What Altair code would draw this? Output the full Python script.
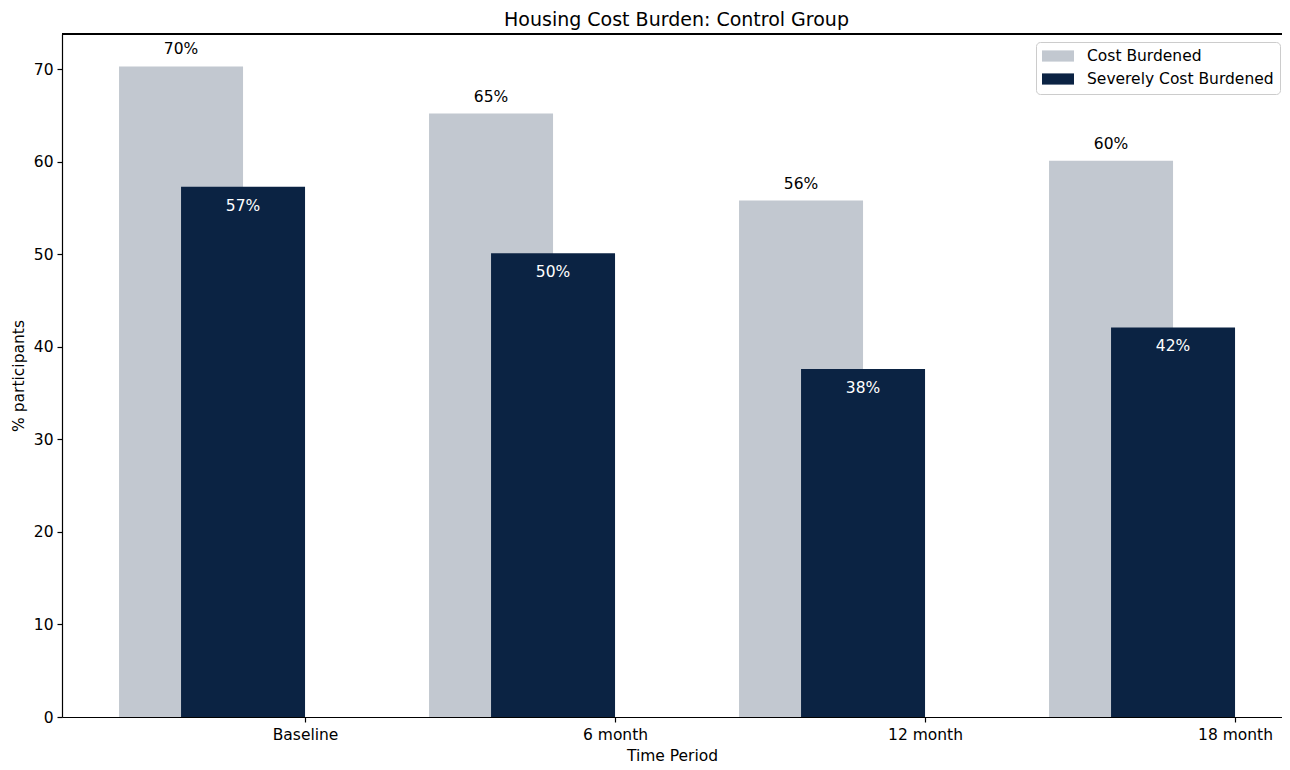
import json
import altair as alt
import pandas as pd

periods = ["Baseline", "6 month", "12 month", "18 month"]
cost_burdened = [70.3, 65.2, 55.8, 60.1]
severely_burdened = [57.3, 50.1, 37.6, 42.1]
series_names = ["Cost Burdened", "Severely Cost Burdened"]
series_colors = ["#c2c8d0", "#0b2343"]
y_ticks = [0, 10, 20, 30, 40, 50, 60, 70]
chart_title = "Housing Cost Burden: Control Group"

rows = []
for s_idx, (name, vals) in enumerate(zip(series_names, [cost_burdened, severely_burdened])):
    for i, v in enumerate(vals):
        rows.append({"idx": i, "period": periods[i], "series": name, "sidx": s_idx,
                     "value": v, "label": f"{round(v)}%"})
df = pd.DataFrame(rows)

W, H = 1220, 683
FONT = "DejaVu Sans"
FS = 15.5

base = alt.Chart(df).transform_calculate(
    x0="datum.idx - 0.6 + 0.2 * datum.sidx",
    x1="datum.idx - 0.2 + 0.2 * datum.sidx",
    xc="datum.idx - 0.4 + 0.2 * datum.sidx",
)

xscale = alt.Scale(domain=[-0.784, -0.784 + W / 310.0], nice=False, zero=False)
yscale = alt.Scale(domain=[0, 73.8], nice=False)

label_expr = json.dumps(periods) + "[datum.value]"

bars = base.mark_bar(stroke=None).encode(
    x=alt.X("x0:Q", scale=xscale,
            axis=alt.Axis(values=[0, 1, 2, 3], labelExpr=label_expr, title="Time Period",
                          grid=False, labelPadding=5, titlePadding=6)),
    x2="x1:Q",
    y=alt.Y("value:Q", scale=yscale,
            axis=alt.Axis(values=y_ticks, title="% participants", grid=False,
                          labelPadding=4, titlePadding=7)),
    y2=alt.datum(0),
    color=alt.Color("series:N", scale=alt.Scale(domain=series_names, range=series_colors),
                    legend=alt.Legend(title=None)),
    order=alt.Order("sidx:Q"),
)

top_labels = base.transform_filter("datum.sidx == 0").mark_text(
    baseline="alphabetic", dy=-12, fontSize=FS, font=FONT, color="black"
).encode(x=alt.X("xc:Q", scale=xscale), y=alt.Y("value:Q", scale=yscale), text="label:N")

in_labels = base.transform_filter("datum.sidx == 1").mark_text(
    baseline="alphabetic", dy=24, fontSize=FS, font=FONT, color="white"
).encode(x=alt.X("xc:Q", scale=xscale), y=alt.Y("value:Q", scale=yscale), text="label:N")

top_spine = alt.Chart(df).mark_rule(color="black", strokeWidth=1.2).encode(
    x=alt.value(0), x2=alt.value(W), y=alt.value(0)
)

title_mark = alt.Chart(pd.DataFrame({"t": [chart_title]})).mark_text(
    baseline="alphabetic", align="center", fontSize=19, font=FONT, color="black"
).encode(x=alt.value(614.5), y=alt.value(-8), text="t:N")

chart = alt.layer(bars, top_labels, in_labels, top_spine, title_mark).properties(
    width=W, height=H,
    autosize=alt.AutoSizeParams(type="none"),
    padding={"left": 54, "top": 26, "right": 0, "bottom": 45},
).configure_view(stroke=None).configure_axis(
    domainColor="black", domainWidth=1.2, tickColor="black", tickWidth=1.2, tickSize=5,
    labelFont=FONT, labelFontSize=FS, labelColor="black",
    titleFont=FONT, titleFontSize=FS, titleFontWeight="normal", titleColor="black",
).configure_legend(
    orient="none", legendX=974, legendY=8, fillColor="white", strokeColor="#cccccc",
    cornerRadius=4, padding=6, symbolType="M-2,-0.7H2V0.7H-2Z", symbolSize=256,
    symbolOffset=8, symbolStrokeWidth=0, labelFont=FONT, labelFontSize=FS,
    labelColor="black", labelOffset=21, rowPadding=6, labelLimit=400,
)

chart.save("out.html", embed_options={"renderer": "svg", "actions": False})
